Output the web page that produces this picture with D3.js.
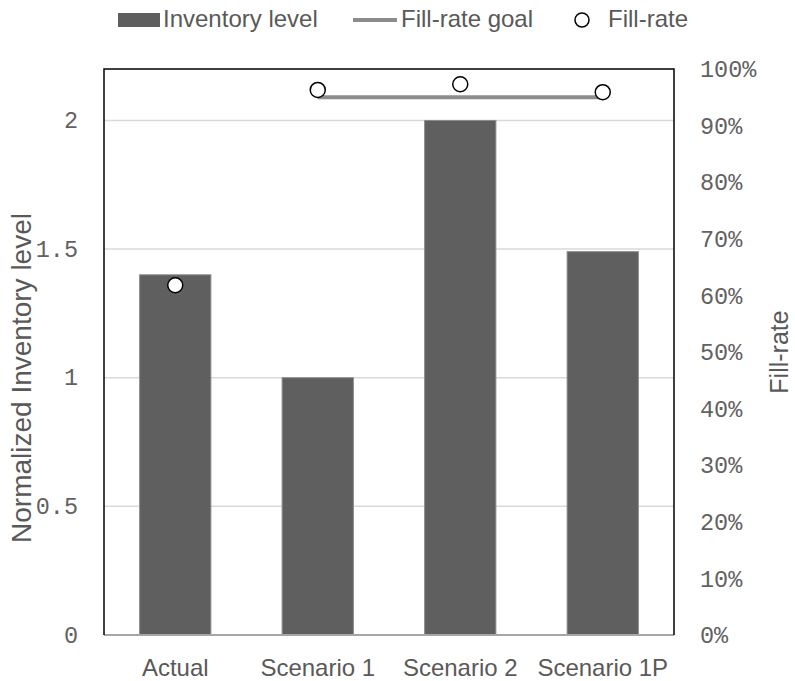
<!DOCTYPE html>
<html>
<head>
<meta charset="utf-8">
<script src="https://d3js.org/d3.v7.min.js"></script>
<style>
  html, body { margin: 0; padding: 0; background: #fff; }
  svg { display: block; }
</style>
</head>
<body>
<svg id="chart" width="795" height="681"></svg>
<script>
// Data
const categories = ["Actual", "Scenario 1", "Scenario 2", "Scenario 1P"];
const inventoryLevel = [1.40, 1.00, 2.00, 1.49];
const fillRate = [0.618, 0.963, 0.973, 0.959];
const fillRateGoal = [null, 0.95, 0.95, 0.95];
const leftTicks = [0, 0.5, 1, 1.5, 2];
const rightTicks = [0, 0.1, 0.2, 0.3, 0.4, 0.5, 0.6, 0.7, 0.8, 0.9, 1.0];

const svg = d3.select("#chart");
const plot = { left: 104, right: 674, top: 69, bottom: 635 };

const textFont = "'Liberation Sans', Arial, sans-serif";
const monoFont = "'Liberation Mono', 'DejaVu Sans Mono', monospace";
const textColor = "#595959";
const tickColor = "#626262";
const barColor = "#5f5f5f";
const goalColor = "#8c8c8c";

const x = d3.scaleBand()
  .domain(categories)
  .range([plot.left, plot.right])
  .paddingInner(0.5)
  .paddingOuter(0.25);

const yLeft = d3.scaleLinear().domain([0, 2.2]).range([plot.bottom, plot.top]);
const yRight = d3.scaleLinear().domain([0, 1]).range([plot.bottom, plot.top]);

const cx = c => x(c) + x.bandwidth() / 2;

// Gridlines
svg.append("g")
  .selectAll("line")
  .data(leftTicks.filter(d => d > 0))
  .join("line")
  .attr("x1", plot.left).attr("x2", plot.right)
  .attr("y1", d => yLeft(d)).attr("y2", d => yLeft(d))
  .attr("stroke", "#d9d9d9")
  .attr("stroke-width", 1.5);

// Bars
svg.append("g")
  .selectAll("rect")
  .data(categories.map((c, i) => ({ c, v: inventoryLevel[i] })))
  .join("rect")
  .attr("x", d => x(d.c))
  .attr("width", x.bandwidth())
  .attr("y", d => yLeft(d.v))
  .attr("height", d => yLeft(0) - yLeft(d.v))
  .attr("fill", barColor)
  .attr("stroke", "#8a8a8a")
  .attr("stroke-width", 1);

// Bottom axis line
svg.append("line")
  .attr("x1", plot.left).attr("x2", plot.right)
  .attr("y1", plot.bottom).attr("y2", plot.bottom)
  .attr("stroke", "#a6a6a6")
  .attr("stroke-width", 2);

// Plot frame (left, top, right)
svg.append("path")
  .attr("d", `M${plot.left},${plot.bottom}V${plot.top}H${plot.right}V${plot.bottom}`)
  .attr("fill", "none")
  .attr("stroke", "#000")
  .attr("stroke-width", 1.5);

// Fill-rate goal line
const goalLine = d3.line()
  .defined(d => d.v != null)
  .x(d => cx(d.c))
  .y(d => yRight(d.v));
svg.append("path")
  .datum(categories.map((c, i) => ({ c, v: fillRateGoal[i] })))
  .attr("d", goalLine)
  .attr("fill", "none")
  .attr("stroke", goalColor)
  .attr("stroke-width", 4);

// Fill-rate markers
svg.append("g")
  .selectAll("circle")
  .data(categories.map((c, i) => ({ c, v: fillRate[i] })))
  .join("circle")
  .attr("cx", d => cx(d.c))
  .attr("cy", d => yRight(d.v))
  .attr("r", 7.5)
  .attr("fill", "#fff")
  .attr("stroke", "#000")
  .attr("stroke-width", 1.5);

// Left axis
const leftAxis = svg.append("g")
  .attr("transform", `translate(${plot.left - 26},0)`)
  .call(d3.axisLeft(yLeft).tickValues(leftTicks).tickSize(0).tickPadding(0)
    .tickFormat(d => String(d)));
leftAxis.select(".domain").remove();
leftAxis.selectAll("text")
  .attr("font-family", monoFont)
  .attr("font-size", 23.5)
  .attr("fill", tickColor)
  .attr("dy", "0.3em");

// Right axis
const rightAxis = svg.append("g")
  .attr("transform", `translate(${plot.right + 26},0)`)
  .call(d3.axisRight(yRight).tickValues(rightTicks).tickSize(0).tickPadding(0)
    .tickFormat(d3.format(".0%")));
rightAxis.select(".domain").remove();
rightAxis.selectAll("text")
  .attr("font-family", monoFont)
  .attr("font-size", 23.5)
  .attr("fill", tickColor)
  .attr("dy", "0.33em");

// Category axis
const xAxis = svg.append("g")
  .attr("transform", `translate(0,${plot.bottom})`)
  .call(d3.axisBottom(x).tickSize(0).tickPadding(0));
xAxis.select(".domain").remove();
xAxis.selectAll("text")
  .attr("font-family", textFont)
  .attr("font-size", 24)
  .attr("fill", textColor)
  .attr("dy", 0)
  .attr("y", 41);

// Axis titles
svg.append("text")
  .attr("transform", `translate(31,378) rotate(-90)`)
  .attr("text-anchor", "middle")
  .attr("font-family", textFont)
  .attr("font-size", 28)
  .attr("fill", textColor)
  .text("Normalized Inventory level");

svg.append("text")
  .attr("transform", `translate(788,352) rotate(-90)`)
  .attr("text-anchor", "middle")
  .attr("font-family", textFont)
  .attr("font-size", 25)
  .attr("fill", textColor)
  .text("Fill-rate");

// Legend
const legend = svg.append("g").attr("font-family", textFont).attr("font-size", 24).attr("fill", textColor);
legend.append("rect")
  .attr("x", 118).attr("y", 13).attr("width", 42).attr("height", 14)
  .attr("fill", barColor);
legend.append("text").attr("x", 163).attr("y", 27).text("Inventory level");
legend.append("line")
  .attr("x1", 353).attr("x2", 397).attr("y1", 20).attr("y2", 20)
  .attr("stroke", goalColor).attr("stroke-width", 4);
legend.append("text").attr("x", 401).attr("y", 27).text("Fill-rate goal");
legend.append("circle")
  .attr("cx", 582).attr("cy", 20).attr("r", 7)
  .attr("fill", "#fff").attr("stroke", "#000").attr("stroke-width", 1.5);
legend.append("text").attr("x", 608).attr("y", 27).text("Fill-rate");
</script>
</body>
</html>
